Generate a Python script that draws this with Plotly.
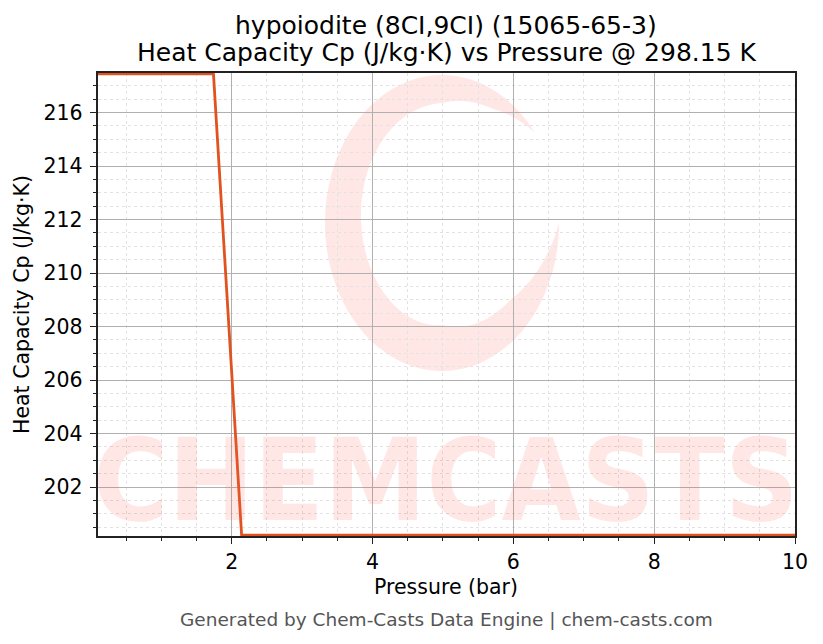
import numpy as np
import plotly.graph_objects as go

# data
pressure_bar = [0.1, 1.74, 2.14, 10.0]
cp_j_per_kg_k = [217.45, 217.45, 200.2, 200.2]

x_ticks = [2, 4, 6, 8, 10]
y_ticks = [202, 204, 206, 208, 210, 212, 214, 216]

title_1 = "hypoiodite (8CI,9CI) (15065-65-3)"
title_2 = "Heat Capacity Cp (J/kg·K) vs Pressure @ 298.15 K"
x_label = "Pressure (bar)"
y_label = "Heat Capacity Cp (J/kg·K)"
footer = "Generated by Chem-Casts Data Engine | chem-casts.com"

W, H = 823, 644
OFF = 8  # page body margin in the browser
L, R, T, B = 98, 795, 73, 536  # plot area in screen pixels
FONT = "DejaVu Sans, Verdana, sans-serif"
WM = "rgba(250,95,80,0.15)"


def to_paper(px, py):
    return (px - L) / (R - L), (B - py) / (B - T)


def ring_path():
    # watermark swirl, a thick open ellipse
    cx, cy, rx, ry = 442, 223, 117, 148
    ang = np.linspace(38, 360, 120)
    thick = np.interp(ang, [38, 60, 90, 180, 270, 320, 360], [0, 16, 28, 36, 46, 28, 0])
    rad = np.radians(ang)
    outer = [to_paper(cx + rx * np.cos(a), cy - ry * np.sin(a)) for a in rad]
    inner = [to_paper(cx + (rx - t) * np.cos(a), cy - (ry - t) * np.sin(a))
             for a, t in zip(rad[::-1], thick[::-1])]
    pts = outer + inner
    return "M " + " L ".join(f"{x:.4f},{y:.4f}" for x, y in pts) + " Z"


def text_at(txt, px, py, size, color="#000", angle=0, family=FONT):
    x, y = to_paper(px, py)
    fig.add_annotation(text=txt, x=x, y=y, xref="paper", yref="paper",
                       xanchor="center", yanchor="middle", showarrow=False,
                       textangle=angle, font=dict(family=family, size=size, color=color))


fig = go.Figure()
fig.add_trace(go.Scatter(
    x=pressure_bar, y=cp_j_per_kg_k, mode="lines",
    line=dict(color="#E0531F", width=2.8), showlegend=False,
))

fig.add_shape(type="path", path=ring_path(), xref="paper", yref="paper",
              fillcolor=WM, line=dict(width=0), layer="below")

text_at("<b>CHEMCASTS</b>", 446, 480, 114, WM,
        family="DejaVu Sans Condensed, DejaVu Sans, sans-serif")

text_at(title_1, 446, 25, 25)
text_at(title_2, 446, 53, 25)
text_at(x_label, 446, 587, 20.5)
text_at(y_label, 22, 305, 20.5, angle=-90)
text_at(footer, 446, 619, 18.5, "#555")

axis_common = dict(
    showline=True, linecolor="#222", linewidth=1.5, mirror=True,
    ticks="outside", ticklen=6.5, tickwidth=1.3, tickcolor="#222",
    showgrid=True, gridcolor="#b0b0b0", gridwidth=0.8,
    zeroline=False, tickfont=dict(family=FONT, size=20.5, color="#000"),
    minor=dict(dtick=0.5, tick0=0, ticks="outside", ticklen=3.5, tickwidth=1,
               tickcolor="#222", showgrid=True, gridcolor="#e2e2e2",
               griddash="dot", gridwidth=0.6),
)

fig.update_xaxes(range=[0.1, 10], tickvals=x_ticks, **axis_common)
fig.update_yaxes(range=[200.17, 217.48], tickvals=y_ticks, ticklabelstandoff=3,
                 **axis_common)

fig.update_layout(
    width=W - OFF, height=H - OFF,
    margin=dict(l=L - OFF, r=W - R, t=T - OFF, b=H - B, pad=0),
    paper_bgcolor="white", plot_bgcolor="white",
    font=dict(family=FONT),
)

fig.write_html("out.html")
